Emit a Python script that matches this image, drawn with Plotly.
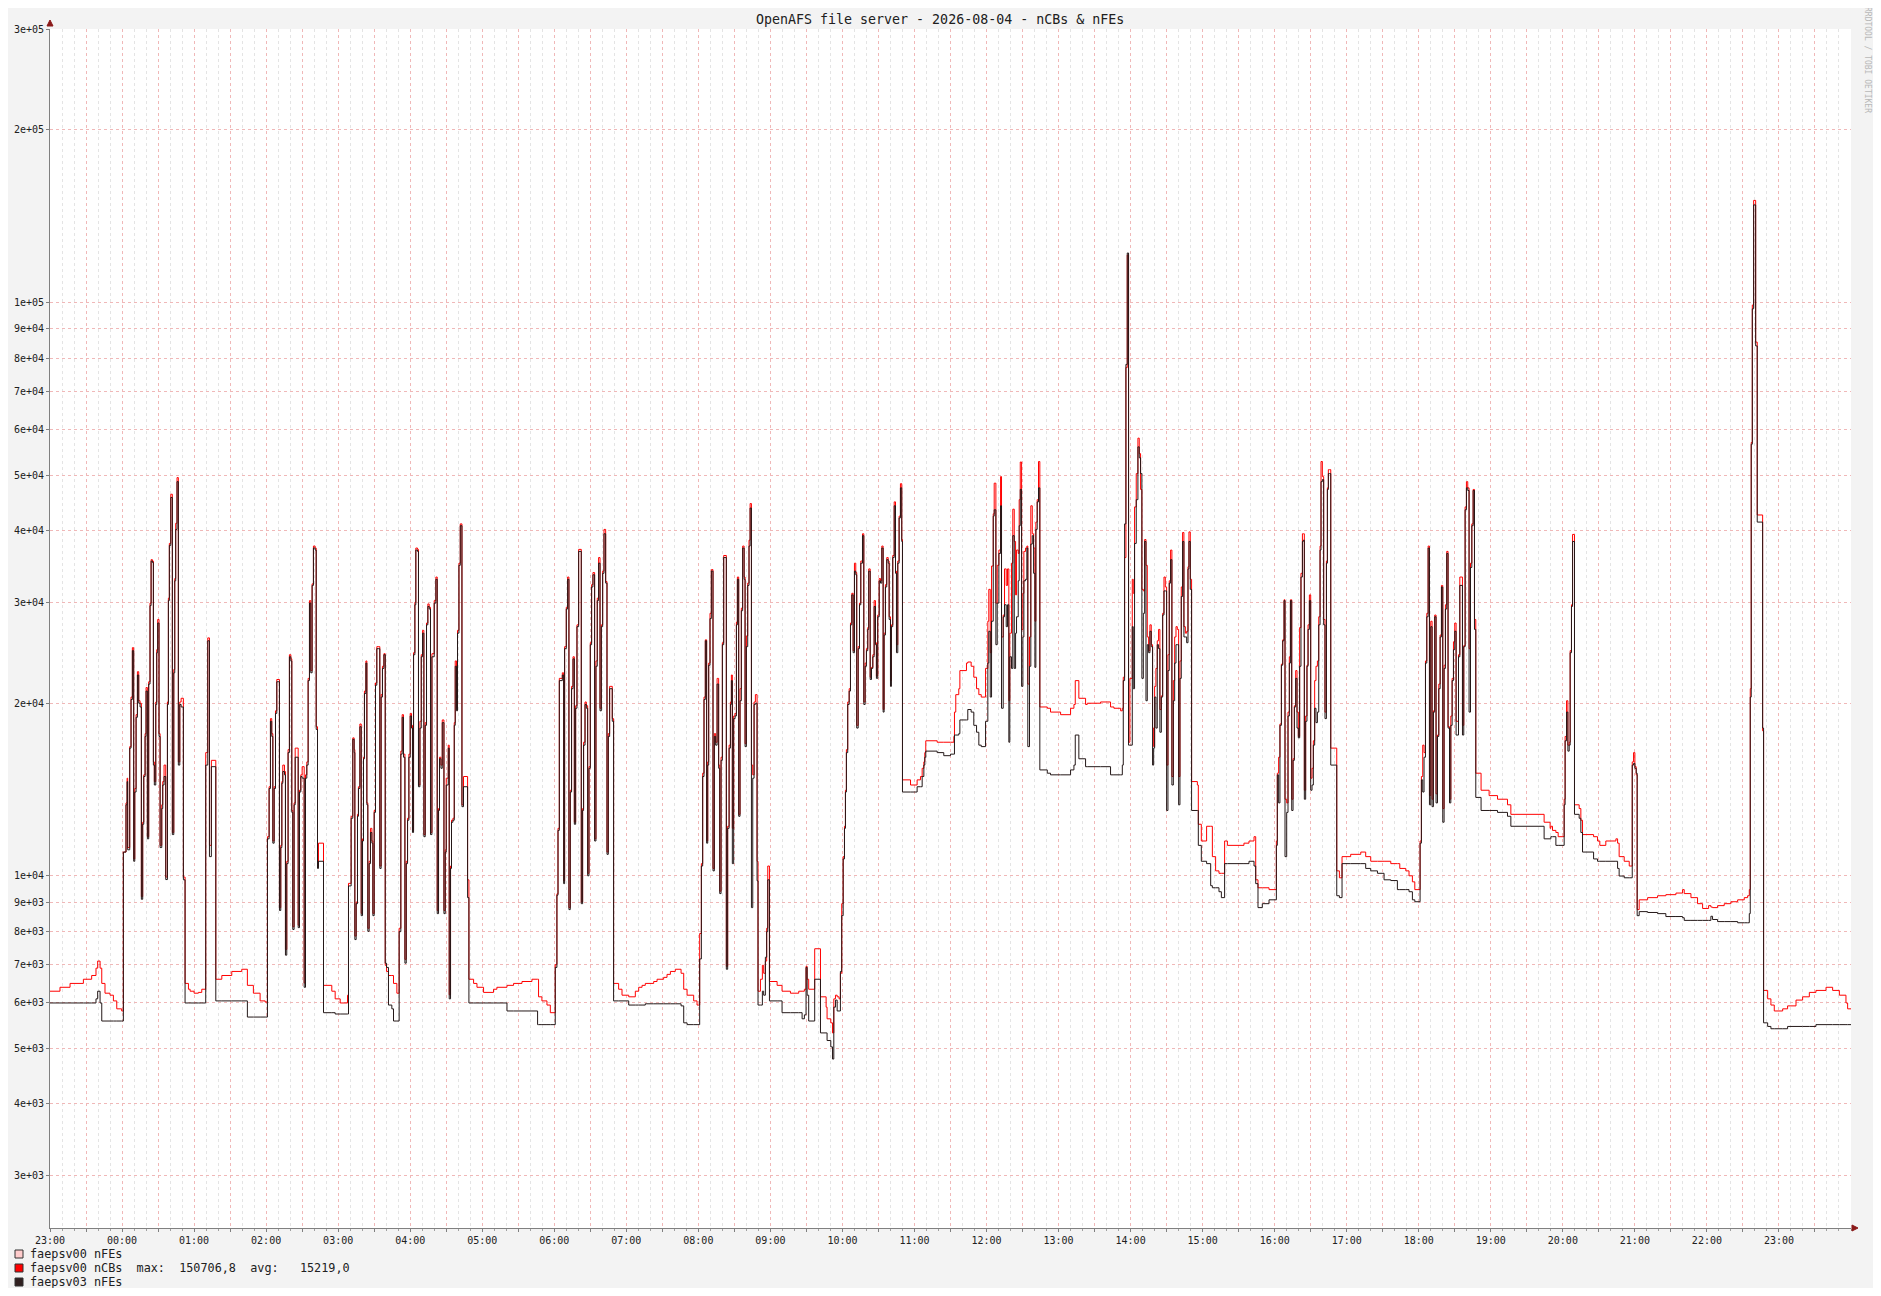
import math
import pandas as pd
import plotly.graph_objects as go

# minutes after 2026-08-03 23:00, one entry per step of the RRD graph
minutes = [
    0, 8.3, 16.7, 27.8, 34.7, 38.3, 39.7, 41.7, 43.1, 45.8, 50, 52.8, 55.6, 59.7,
    61.1, 63.3, 64.2, 64.7, 66.4, 67.5, 68.6, 69.7, 70.6, 71.7, 72.8, 73.9,
    75, 76.1, 77.2, 78.1, 79.2, 80, 81.1, 82.2, 83.3, 84.2, 85.3, 86.1,
    86.9, 88.1, 88.9, 89.7, 90.8, 91.7, 93.1, 93.9, 95, 96.4, 97.8, 98.6,
    99.4, 100.6, 101.9, 103.1, 103.9, 104.7, 105.8, 106.9, 108.1, 109.2, 111.1,
    112.5, 115.3, 116.7, 120, 123.6, 126.4, 129.7, 131.4, 132.8, 134.4,
    138.1, 143.1, 151.4, 159.7, 164.4, 169.4, 175, 179.2,
    181.1, 182.5, 183.6, 184.7, 185.6, 186.7, 187.8, 188.9, 191.1, 192.2, 193.1, 193.9,
    195.3, 196.1, 197.2, 198.3, 199.4, 200.6, 201.4, 202.2, 203.3, 204.2, 206.7, 207.8,
    208.9, 210, 211.7, 212.8, 213.9, 215, 216.1, 217.2, 218.3, 219.4, 220.8, 221.7,
    222.8, 223.6, 227.8, 234.7, 237.5, 241.7, 247.8, 248.6, 250.8,
    252.2, 253.3, 253.9, 255, 256.1, 256.9, 258.1, 259.2, 260.3, 261.1, 261.9, 263.1,
    263.9, 264.7, 265.8, 266.9, 268.1, 268.9, 270, 271.1, 272.2, 273.9, 274.7, 275.8,
    276.9, 278.1, 279.2, 280.3, 281.9, 284.7, 286.1, 288.9, 290.8, 292.2,
    293.3, 294.4, 295.6, 296.7, 297.8, 298.9, 300, 301.1, 301.9, 302.8, 303.9, 304.7,
    306.1, 306.9, 308.1, 309.2, 310.3, 311.4, 312.5, 313.6, 314.7, 315.8, 316.9, 318.1,
    320, 321.4, 322.5, 323.6, 324.4, 325.6, 326.7, 328.1, 329.2, 330, 331.7, 332.5,
    333.6, 334.4, 335.6, 336.7, 337.5, 338.6, 339.4, 340.6, 341.7, 343.1, 344.4, 347.8,
    348.9, 352.8, 355.6, 361.1, 369.4, 372.2, 380.6, 386.1, 393.1, 401.4, 406.1, 406.9,
    409.7, 413.9, 416.7, 420.8, 422.2, 423.1, 424.2, 426.7, 427.8, 428.6, 430, 431.1,
    432.2, 433.3, 434.4, 435.6, 436.7, 437.8, 438.9, 440.3, 442.5, 443.6, 444.4, 445.6,
    446.7, 447.8, 448.9, 450, 451.1, 452.2, 453.6, 454.7, 455.8, 456.9, 458.1, 459.2,
    460.3, 461.4, 462.8, 463.9, 465, 466.1, 467.2, 468.3, 469.4, 473.6, 476.4, 482,
    487.5, 490.3, 493.1, 495.8, 502.8, 505.6, 511.1, 513.9, 516.7, 520.8, 525.6,
    527.8, 530.6, 536.1, 538.9, 541.1, 542.5, 543.6, 544.7, 545.8, 546.9, 547.8, 548.6,
    549.7, 550.8, 552.2, 553.3, 554.4, 555.6, 556.9, 557.8, 558.9, 560, 561.1, 562.2,
    563.3, 564.4, 565.6, 566.7, 567.5, 568.3, 569.4, 570.6, 571.7, 572.5, 573.6, 574.7,
    575.8, 576.9, 578.1, 578.9, 580, 581.1, 582.2, 583.1, 584.2, 585.3, 586.4, 587.5,
    588.9, 589.7, 591.7, 593.3, 594.4, 595.8, 596.9, 597.8, 599.2, 605.6, 609.7, 616.7,
    623.6, 626.4, 628.3, 629.7, 630.6, 631.9, 636.9, 641.7, 646.4, 647.2, 650.3, 651.7,
    652.8, 654.2, 655.6, 657.2, 658.3, 659.4, 660.6, 661.7, 662.5, 663.3, 664.4, 665.6,
    666.7, 667.8, 668.9, 670, 671.1, 671.9, 673.1, 674.2, 675.3, 676.7, 677.8, 678.9,
    680, 681.1, 681.9, 683.1, 684.2, 685.3, 686.4, 687.5, 688.3, 689.4, 690.6, 691.7,
    692.8, 693.9, 694.7, 695.8, 696.9, 698.1, 698.9, 700, 700.8, 701.9, 703.1, 704.2,
    705, 706.1, 707.2, 708.3, 709.4, 710, 716.7, 722.2, 725, 726.4, 727.8, 728.6,
    729.4, 738.9, 744.4, 750,
    752.8, 753.3, 754.4, 756.9, 757.8, 763.3, 764.4, 767.2, 769.4, 771.7, 773.6, 775.6,
    779.2, 781.1, 781.9, 783.1, 784.2, 785.6, 786.4, 787.8, 788.9, 790.3, 791.7, 792.5,
    793.9, 795, 796.4, 797.5, 798.6, 799.4, 800.8, 801.9, 803.1, 804.2, 805, 806.4,
    807.2, 808.1, 809.2, 810.3, 811.1, 812.5, 813.6, 814.4, 815.8, 816.9, 818.1, 819.2,
    820.3, 821.1, 822.2, 823.3, 824.4, 830.6, 833.3, 841.7, 850, 852.8, 853.9, 856.9,
    862.5, 863.9, 875, 883.3, 886.1, 891.7, 893.1, 893.9, 895, 896.1, 897.2, 898.3,
    899.4, 901.4, 902.2, 903.3, 904.7, 906.1, 907.2, 908.3, 909.4, 910.6, 911.7, 912.8,
    913.9, 915, 916.1, 917.2, 918.3, 919.2, 920, 921.1, 922.2, 923.3, 924.4, 925.6,
    926.7, 927.8, 928.9, 930, 931.1, 932.2, 933.3, 934.4, 935.6, 936.7, 937.8, 938.9,
    940, 941.1, 942.2, 943.3, 944.4, 945.6, 946.7, 947.8, 948.6, 949.7, 950.8, 955.6,
    956.4, 958.9, 963.3, 966.7, 968.1, 970.8, 973.6, 975.6, 978.3, 980.6, 994.4, 998.6,
    1002.8, 1004.2, 1006.1, 1009.7, 1015.3, 1021.4, 1022.2, 1023.3, 1024.4, 1025.6, 1026.7, 1027.8,
    1028.6, 1030, 1031.1, 1032.2, 1033.1, 1034.2, 1035.3, 1036.4, 1037.5, 1038.6, 1039.7, 1040.8,
    1041.9, 1043.1, 1043.9, 1044.7, 1045.8, 1046.9, 1047.8, 1048.9, 1050, 1051.1, 1052.2, 1053.3,
    1054.4, 1055.6, 1056.7, 1057.8, 1058.6, 1059.7, 1060.8, 1061.9, 1063.1, 1063.9, 1064.7, 1065.8,
    1066.7, 1071.7, 1073.9, 1076.1, 1083.3, 1091.7, 1095.8, 1100, 1105.6, 1111.1, 1116.7, 1122.2,
    1124.2, 1129.2, 1131.9, 1134.7, 1136.7, 1141.1, 1142.2, 1143.3, 1144.4, 1145.6, 1146.7, 1147.8,
    1148.9, 1150, 1151.1, 1152.2, 1153.3, 1154.4, 1155.6, 1156.7, 1157.8, 1158.9, 1160, 1161.1,
    1162.2, 1163.3, 1164.4, 1165.6, 1166.7, 1167.8, 1168.9, 1170, 1171.1, 1173.1, 1174.2, 1176.4,
    1177.5, 1178.6, 1179.7, 1180.8, 1181.9, 1183.1, 1184.2, 1185.3, 1186.4, 1187.5, 1191.9, 1198.6,
    1205.6, 1213.9, 1216.7, 1244.4, 1249.4,
    1250, 1251.4, 1254.2, 1256.1, 1261.1, 1261.9, 1263.1, 1264.2, 1265.3, 1266.1, 1267.2, 1268.1,
    1269.7, 1273.6, 1275, 1276.4, 1285.6, 1288.9, 1290.8, 1295.8, 1304.2, 1305.6, 1306.9, 1311.1,
    1315.3, 1317.8, 1318.9, 1320, 1321.1, 1321.9, 1323.6, 1330.6, 1338.9, 1345.8, 1354.2, 1359.7,
    1361.1, 1366.7, 1372.2, 1376.4, 1381.4, 1383.3, 1384.7, 1388.9, 1394.4, 1400, 1405.6, 1411.1,
    1413.9, 1415.3, 1416.1, 1416.9, 1417.8, 1418.9, 1420.6, 1421.9, 1425, 1426.4, 1427.2, 1430.6,
    1433.3, 1436.1, 1443.1, 1447.2, 1454.2, 1459.7, 1465.3, 1470.8, 1479.2, 1484.7, 1490.3, 1495.8,
    1497.2, 1500,
]

# faepsv03 nFEs (dark line)
nfes03 = [
    6000, 6000, 6000, 6000, 6000, 6100, 6290, 6000, 5580, 5580, 5580, 5580, 5580, 5580,
    11000, 13300, 14600, 11100, 16700, 20300, 24700, 10600, 14000, 18900, 22400, 20000,
    19700, 9100, 12300, 14900, 17500, 21000, 11600, 21600, 29600, 35400, 35200, 15600,
    14400, 19900, 24500, 27600, 17500, 11200, 13100, 14400, 14900, 9850, 19900, 30200,
    37700, 45700, 11800, 22600, 32700, 40200, 48700, 15600, 19900, 19700, 9840,
    6000, 6000, 6000, 6000, 6000, 6000, 15600, 25700, 10800, 15500,
    6050, 6050, 6050, 6050, 5670, 5670, 5670, 5670,
    11600, 14200, 18600, 17500, 11400, 14200, 19200, 21800, 8700, 11200, 14500, 15200,
    15000, 7270, 10500, 16400, 24100, 23700, 12900, 8060, 13300, 16100, 8120, 14000,
    14900, 14800, 6390, 14800, 15600, 21900, 29900, 22600, 32100, 37300, 37000, 18000,
    10300, 10600, 5770, 5770, 5740, 5740, 5740, 9600, 12600,
    17300, 16400, 7740, 8940, 12700, 14200, 18200, 8520, 11500, 16000, 20800, 23500,
    13300, 8000, 10500, 11900, 11400, 8520, 12900, 21500, 24900, 24900, 10300, 20500,
    23000, 24300, 7040, 6920, 5950, 5860, 5580, 5580, 7990, 16300,
    18900, 16100, 7040, 10500, 12500, 16100, 19000, 18100, 11900, 24300, 29700, 37000,
    36800, 14300, 18100, 24100, 26500, 11700, 18300, 27400, 29500, 29200, 11800, 24100,
    29900, 32900, 8590, 13000, 16000, 15400, 18500, 8590, 11000, 14400, 16700, 6100,
    10300, 12400, 12500, 18300, 23200, 19400, 26500, 34800, 40800, 13200, 14300, 9160,
    6000, 6000, 6000, 6000, 6000, 6000, 5810, 5810, 5810, 5810, 5500, 5500,
    5500, 5500, 5500, 6920, 9250, 12000, 21900, 22400, 9690, 24900, 29200, 32900,
    8730, 14000, 21200, 23900, 12300, 19600, 27200, 36800, 8940, 13000, 16900, 19900,
    19600, 10000, 15400, 25300, 31900, 33500, 11500, 23200, 30200, 35100, 19400, 27200,
    33700, 39500, 32400, 10900, 17500, 21200, 21200, 18600, 6050, 6050, 6050, 5950,
    5950, 5950, 5950, 5980, 5980, 5980, 5980, 5980, 5980, 5980, 5930,
    5540, 5500, 5500, 5500, 7160, 10400, 14900, 20300, 25700, 11400, 15600, 23300,
    28100, 34000, 10200, 17500, 16900, 21600, 15400, 9310, 15900, 25300, 35900, 35900,
    6870, 12100, 16700, 19900, 21900, 10500, 18800, 19000, 27400, 32900, 12700, 20200,
    29000, 37300, 32900, 16800, 25100, 32100, 37600, 43800, 8800, 14800, 19900, 20000,
    9800, 5950, 5950, 6290, 6190, 7210, 7990, 9840, 6050, 6050, 5770, 5770,
    5770, 5630, 5720, 6920, 6190, 5580, 6600, 5320, 5320, 5160, 5030, 4790,
    5900, 6070, 5810, 5810, 6810, 8520, 10700, 12100, 14000, 16400, 19900, 21000,
    27400, 30900, 24500, 34000, 33500, 18100, 24900, 29700, 35100, 39200, 19900, 23200,
    24700, 26900, 34000, 22000, 23000, 24100, 29500, 25300, 22100, 28300, 32700, 32400,
    37300, 19300, 26300, 31900, 35600, 35100, 28000, 21400, 27200, 35900, 44200, 33700,
    24500, 35100, 42100, 47500, 38300, 14000, 14000, 14300, 14300, 14900, 15600, 16100,
    16500, 16400, 16200, 16300,
    16300, 17600, 17600, 17700, 18700, 18700, 19500, 19300, 18300, 17800, 16900, 16800,
    18600, 23500, 26700, 20500, 27800, 42400, 43500, 25300, 29900, 36500, 44200, 19600,
    28300, 29700, 27200, 29700, 17100, 24100, 23000, 39200, 23000, 26500, 28300, 32700,
    40800, 47200, 21400, 26100, 32700, 32900, 37300, 16800, 23200, 37900, 39200, 33700,
    23100, 40200, 44900, 47500, 15300, 15100, 15000, 15000, 15300, 15600, 17600, 16000,
    15500, 15500, 15500, 15000, 15000, 15000, 15600, 21900, 41100, 78000, 122000, 16900,
    16900, 27200, 21200, 38000, 45300, 56000, 53600, 50300, 22100, 28700, 38300, 20200,
    25300, 24500, 26700, 25100, 15600, 16700, 20500, 18100, 25300, 24900, 17800, 20500,
    28500, 31400, 31400, 13000, 22800, 32400, 35600, 14400, 20200, 23500, 25300, 25300,
    13300, 22100, 30700, 38300, 26100, 26100, 25500, 34300, 38300, 31600, 13000, 13000,
    11300, 10600, 10500, 9610, 9530, 9530, 9380, 9160, 10500, 10500, 10500, 10600,
    10400, 9690, 8800, 8940, 9080, 11300, 15000, 13400, 18300, 23300, 25700, 30200,
    10800, 12900, 19000, 23500, 30200, 13000, 15900, 19700, 22100, 18100, 17400, 23200,
    33200, 38300, 38500, 13600, 18600, 23200, 26900, 30200, 14100, 14400, 16900, 19600,
    18500, 19300, 27400, 37000, 48700, 49100, 27400, 18800, 35100, 47200, 50300, 50300,
    15600, 9230, 9160, 10500, 10500, 10500, 10300, 10200, 10100, 9840, 9810, 9460,
    9460, 9460, 9380, 9080, 9010, 11400, 14700, 14000, 16100, 23500, 28300, 37300,
    13300, 27200, 13200, 19300, 28300, 13400, 17500, 21200, 26100, 31900, 12400, 23000,
    29200, 36500, 18100, 13400, 18300, 21900, 24800, 26700, 17600, 24100, 32100, 17600,
    25100, 43500, 47500, 47000, 19300, 34500, 40800, 47000, 26900, 13700, 13000, 13000,
    12900, 12700, 12200, 11600, 11600,
    11700, 11700, 11300, 11300, 13300, 17200, 19300, 16500, 16900, 24500, 29500, 38300,
    12800, 12600, 11900, 11000, 10700, 10600, 10600, 10600, 10600, 10300, 9990, 9920,
    9920, 15600, 15700, 15400, 15100, 8520, 8660, 8630, 8590, 8490, 8490, 8450,
    8360, 8360, 8360, 8360, 8360, 8500, 8390, 8320, 8320, 8320, 8280, 8280,
    8280, 8590, 20500, 56600, 97500, 148000, 84000, 41400, 41400, 18100, 5540, 5460,
    5410, 5410, 5410, 5460, 5460, 5460, 5460, 5500, 5500, 5500, 5500, 5500,
    5500, 5500,
]

# faepsv00 nCBs (red line)
ncbs00 = [
    6290, 6390, 6490, 6600, 6700, 6900, 7100, 6900, 6490, 6240, 6190, 6050, 5860, 5810,
    11000, 13400, 14800, 11200, 16800, 20500, 25000, 10700, 14200, 19100, 22700, 20200,
    20000, 9200, 12400, 15000, 17700, 21300, 11700, 21800, 29900, 35600, 35400, 15800,
    14600, 20100, 24800, 28000, 17700, 11300, 13300, 14600, 15600, 9950, 20100, 30500,
    38000, 46300, 11900, 22900, 33000, 41200, 49500, 15800, 20100, 20400, 9950,
    6490, 6340, 6290, 6240, 6260, 6340, 16400, 26000, 11300, 15900,
    6600, 6700, 6810, 6870, 6440, 6240, 6050, 6020,
    11700, 14300, 18800, 17700, 11500, 14300, 19400, 22000, 8800, 11300, 14600, 15600,
    15200, 7440, 10600, 16600, 24300, 23900, 13000, 8150, 13400, 16700, 8200, 14100,
    15000, 15500, 6500, 15000, 15800, 22100, 30200, 22800, 32300, 37600, 37300, 18200,
    10400, 11400, 6440, 6290, 6100, 6000, 6190, 9700, 12700,
    17400, 16600, 7850, 9000, 12800, 14300, 18400, 8600, 11600, 16100, 21000, 23700,
    13400, 8100, 10600, 12100, 11500, 8600, 13000, 21700, 25100, 25100, 10400, 20700,
    23200, 24400, 6980, 6810, 6700, 6700, 6490, 6240, 8100, 16500,
    19100, 16300, 7150, 10600, 12600, 16300, 19200, 18300, 12000, 24500, 30000, 37300,
    37100, 14400, 18600, 24300, 26800, 11800, 18500, 27600, 29800, 29400, 11900, 24400,
    30200, 33200, 8700, 13100, 16100, 15600, 18700, 8700, 11100, 14800, 16900, 6200,
    10400, 12500, 12600, 18500, 23700, 19600, 26800, 35100, 41100, 13300, 14900, 9840,
    6600, 6490, 6390, 6260, 6340, 6390, 6440, 6490, 6540, 6600, 6600, 6150,
    6050, 5950, 5770, 7000, 9300, 12100, 22100, 22600, 9800, 25100, 29400, 33200,
    8800, 14100, 21400, 24100, 12400, 19800, 27400, 37100, 9000, 13100, 17100, 20100,
    19800, 10100, 15500, 25500, 32200, 33800, 11600, 23700, 30500, 35900, 19600, 27400,
    34000, 40200, 32600, 11000, 17700, 21400, 21400, 18800, 6490, 6340, 6190, 6150,
    6290, 6390, 6440, 6490, 6540, 6600, 6650, 6730, 6810, 6870, 6760,
    6340, 6190, 6050, 5950, 7930, 10500, 15100, 20500, 25800, 11500, 15800, 23500,
    28700, 34200, 10300, 17700, 17100, 22100, 15600, 9400, 16100, 25500, 36200, 36200,
    6950, 12200, 16900, 20100, 22400, 12100, 19000, 19200, 27700, 33200, 12800, 21200,
    29300, 37600, 33200, 17000, 26200, 32400, 38500, 44600, 15600, 15000, 20100, 20700,
    10600, 6290, 6600, 6980, 6760, 7100, 8100, 10400, 6540, 6440, 6290, 6240,
    6290, 6290, 6340, 6950, 6600, 6340, 7460, 6150, 5900, 5630, 5540, 5320,
    6100, 6190, 6150, 6100, 6760, 8940, 10800, 12200, 14100, 16600, 20100, 21200,
    27600, 31100, 24700, 35100, 33800, 18300, 25100, 29900, 35400, 39500, 20100, 23500,
    24900, 27100, 34300, 22200, 23100, 24300, 30200, 25500, 22300, 28500, 33000, 32700,
    37600, 19500, 26500, 32200, 35900, 35400, 28300, 21900, 27400, 36200, 44900, 34000,
    25300, 35400, 42400, 48300, 38600, 14700, 14400, 14700, 14900, 15400, 15800, 16400,
    17200, 17100, 17100, 17100,
    17500, 19300, 20700, 21200, 22800, 23500, 23600, 23200, 22200, 21200, 20700, 20500,
    23000, 27800, 31600, 24500, 34700, 42800, 48400, 29900, 34800, 37000, 49700, 26100,
    28500, 34300, 32100, 34300, 20200, 26500, 35100, 43600, 38300, 30900, 37000, 36500,
    45300, 52700, 26900, 31100, 36800, 37300, 37600, 21600, 26100, 44200, 39500, 37300,
    27800, 41400, 45300, 52800, 19700, 19600, 19300, 19100, 19600, 19900, 21900, 20400,
    19900, 20000, 20100, 19700, 19600, 19400, 19600, 22200, 35900, 77000, 121000, 17100,
    22100, 32900, 31100, 44000, 50300, 58000, 54500, 47200, 31600, 31400, 38600, 34800,
    26100, 24700, 27400, 25300, 18100, 16800, 21400, 23000, 25700, 26900, 19500, 20600,
    28700, 33200, 31900, 15600, 24300, 32700, 37000, 14900, 21900, 26100, 27200, 26900,
    14900, 23700, 31900, 39700, 27200, 26500, 26700, 34600, 39800, 32900, 14600, 14400,
    12300, 11500, 12200, 12200, 10800, 10200, 10100, 10100, 11500, 11300, 11400, 11500,
    11700, 9840, 9530, 9530, 9460, 11500, 15100, 16100, 18400, 23400, 25800, 30300,
    13600, 13400, 19300, 24100, 30300, 13600, 16000, 19800, 22800, 19300, 17500, 27100,
    33700, 39500, 39500, 14100, 19000, 23300, 27400, 30900, 14800, 15400, 17200, 21900,
    23200, 23700, 28300, 37600, 52800, 49700, 28000, 19300, 35400, 47500, 51100, 51100,
    16700, 10200, 9920, 10800, 10900, 11000, 10800, 10600, 10600, 10600, 10500, 10500,
    10300, 10200, 10000, 9760, 9460, 11500, 14900, 16900, 16400, 23700, 28700, 37600,
    13800, 27800, 13600, 19400, 28500, 13900, 17600, 21600, 26300, 32100, 13100, 23300,
    29700, 36800, 18200, 13600, 19000, 22100, 25600, 27600, 18600, 24300, 33200, 18300,
    25200, 44000, 48700, 47500, 24900, 35100, 41100, 47200, 28000, 15100, 14100, 13800,
    13600, 13300, 12800, 12400, 12100,
    12200, 12000, 11900, 11700, 13600, 17500, 20200, 16900, 17100, 24700, 29700, 39400,
    13300, 13100, 12500, 11800, 11700, 11500, 11300, 11500, 11600, 11400, 10800, 10600,
    10400, 15800, 16400, 15500, 15000, 8730, 9080, 9160, 9230, 9270, 9330, 9460,
    9310, 9160, 8940, 8770, 8870, 8820, 8800, 8870, 8940, 9010, 9080, 9160,
    9230, 9460, 21200, 57000, 99000, 150700, 85300, 42600, 42600, 17900, 6310, 6100,
    5950, 5810, 5860, 5930, 6070, 6150, 6260, 6310, 6390, 6310, 6190, 6000,
    5860, 5860,
]

assert len(minutes) == len(nfes03) == len(ncbs00), (len(minutes), len(nfes03), len(ncbs00))

y_ticks = [3e3, 4e3, 5e3, 6e3, 7e3, 8e3, 9e3, 1e4, 2e4, 3e4, 4e4, 5e4, 6e4, 7e4, 8e4, 9e4, 1e5, 2e5, 3e5]
y_labels = ["3e+03", "4e+03", "5e+03", "6e+03", "7e+03", "8e+03", "9e+03",
            "1e+04", "2e+04", "3e+04", "4e+04", "5e+04", "6e+04", "7e+04", "8e+04", "9e+04",
            "1e+05", "2e+05", "3e+05"]

legend_names = ["faepsv00 nFEs", "faepsv00 nCBs", "faepsv03 nFEs"]
legend_colors = ["#FFCCCC", "#FF0000", "#302020"]
ncbs_max = "150706,8"
ncbs_avg = "15219,0"

start = pd.Timestamp("2026-08-03 23:00")
end = pd.Timestamp("2026-08-05 00:00")
when = start + pd.to_timedelta(minutes, unit="m")

# pixel frame of the rrdtool canvas (reference pixel coordinates)
W, H = 1881, 1296
L, R, T, B = 50, 1851, 29, 1228
# the page body adds an 8px margin, so the figure is made smaller and shifted
BODY = 8
FW, FH = W - 2 * BODY, H - 2 * BODY

def px(x):
    return (x - L) / (R - L)

def py(y):
    return (B - y) / (B - T)

MONO = "DejaVu Sans Mono"

fig = go.Figure()
fig.add_trace(go.Scatter(x=when, y=ncbs00, mode="lines", line_shape="hv",
                         line=dict(color="#FF0000", width=1), name="faepsv00 nCBs"))
fig.add_trace(go.Scatter(x=when, y=nfes03, mode="lines", line_shape="hv",
                         line=dict(color="#241818", width=1), name="faepsv03 nFEs"))

half_hours = pd.date_range(start, end, freq="30min")[:-1]
hour_text = [t.strftime("%H:%M") if t.minute == 0 else "" for t in half_hours]

fig.update_xaxes(
    range=[start, end], tickmode="array", tickvals=half_hours, ticktext=hour_text,
    showgrid=True, gridcolor="#F0B8B8", griddash="dot", gridwidth=1,
    showline=True, linecolor="#808080", linewidth=1,
    ticks="outside", ticklen=3, tickcolor="#808080",
    tickfont=dict(family=MONO, size=10, color="#202020"),
    minor=dict(tickmode="linear", tick0=start, dtick=600000, showgrid=True,
               gridcolor="#E4E4E4", griddash="dot", gridwidth=1,
               ticks="outside", ticklen=2, tickcolor="#A0A0A0"),
    zeroline=False, fixedrange=True, automargin=False,
)
fig.update_yaxes(
    type="log", range=[math.log10(2430), math.log10(300000)],
    tickmode="array", tickvals=y_ticks, ticktext=y_labels,
    showgrid=True, gridcolor="#F0B8B8", griddash="dot", gridwidth=1,
    showline=True, linecolor="#808080", linewidth=1,
    ticks="outside", ticklen=3, tickcolor="#808080",
    tickfont=dict(family=MONO, size=10, color="#202020"),
    zeroline=False, fixedrange=True, automargin=False,
)

shapes = [
    # axis arrows
    dict(type="path", xref="paper", yref="paper",
         path=f"M {px(47)} {py(26)} L {px(53)} {py(26)} L {px(50)} {py(20)} Z",
         fillcolor="#8B1A1A", line=dict(color="#8B1A1A", width=1)),
    dict(type="path", xref="paper", yref="paper",
         path=f"M {px(1852)} {py(1225)} L {px(1852)} {py(1231)} L {px(1858)} {py(1228)} Z",
         fillcolor="#8B1A1A", line=dict(color="#8B1A1A", width=1)),
]

annotations = [
    dict(text="OpenAFS file server - 2026-08-04 - nCBs & nFEs", xref="paper", yref="paper",
         x=px(940), y=py(19), xanchor="center", yanchor="middle", showarrow=False,
         font=dict(family=MONO, size=13.3, color="#202020")),
    dict(text="RRDTOOL / TOBI OETIKER", xref="paper", yref="paper",
         x=px(1868), y=py(60), xanchor="center", yanchor="middle", showarrow=False,
         textangle=90, font=dict(family=MONO, size=8, color="#B8B8B8")),
]

legend_rows = [1254, 1268, 1282]
legend_text = [
    legend_names[0],
    legend_names[1] + "\u00a0\u00a0max:\u00a0\u00a0" + ncbs_max + "\u00a0\u00a0avg:\u00a0\u00a0\u00a0" + ncbs_avg,
    legend_names[2],
]
for row, color, label in zip(legend_rows, legend_colors, legend_text):
    shapes.append(dict(type="rect", xref="paper", yref="paper",
                       x0=px(15), x1=px(23), y0=py(row + 4), y1=py(row - 4),
                       fillcolor=color, line=dict(color="#303030", width=1)))
    annotations.append(dict(text=label, xref="paper", yref="paper",
                            x=px(28), y=py(row), xanchor="left", yanchor="middle",
                            showarrow=False, font=dict(family=MONO, size=11.8, color="#202020")))

fig.update_layout(
    width=FW, height=FH,
    margin=dict(l=L - BODY, r=FW - (R - BODY), t=T - BODY, b=FH - (B - BODY), pad=0, autoexpand=False),
    paper_bgcolor="#F3F3F3", plot_bgcolor="#FFFFFF",
    showlegend=False,
    shapes=shapes, annotations=annotations,
    hoverlabel=dict(font_family=MONO),
)

fig.write_html("out.html")
